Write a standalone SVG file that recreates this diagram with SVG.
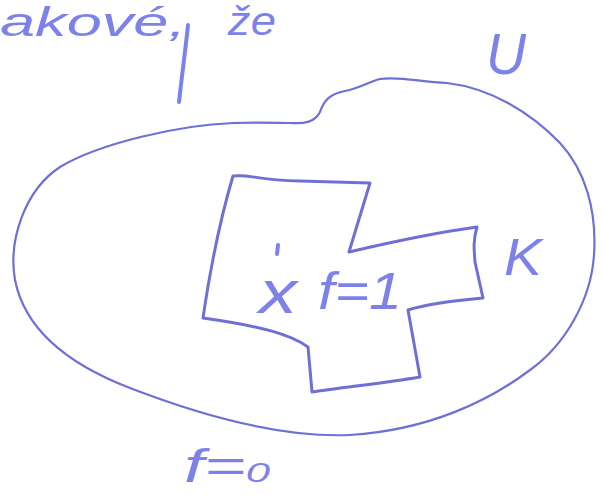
<svg xmlns="http://www.w3.org/2000/svg" width="605" height="495" viewBox="0 0 605 495">
<style>
.outline{fill:none;stroke:#6f70d6;stroke-linecap:round;stroke-linejoin:round}
.hw{fill:#7d82ea;font-family:"Liberation Sans","DejaVu Sans",sans-serif;font-style:italic}
.mark{fill:none;stroke:#7d82ea;stroke-width:4;stroke-linecap:round}
</style>
<rect width="605" height="495" fill="#ffffff"/>
<g id="set-U">
<path class="outline" stroke-width="2.2" d="M290,123 C305,124 315,122 320,112 C324,100 330,94 345,91 C360,88 368,82 380,79 C400,76 420,82 447,83 C490,88 530,112 560,143 C585,170 597,210 594,255 C591,300 565,345 530,370 C490,400 430,430 350,435 C280,438 200,415 130,388 C70,365 25,330 15,280 C8,240 25,190 60,167 C100,143 180,125 233,123 C260,122 280,123 290,123 Z"/>
<text class="hw" x="486" y="74" font-size="58" textLength="40" lengthAdjust="spacingAndGlyphs">U</text>
</g>
<g id="set-K">
<path class="outline" stroke-width="3" d="M233,176 C250,174 255,180 300,181 L370,183 L349,252 C400,240 440,232 477,227 C473,240 474,250 475,262 L483,298 C460,300 430,303 408,310 L420,377 C385,383 345,387 312,392 L308,347 C290,334 260,326 203,318 C210,270 220,220 233,176 Z"/>
<text class="hw" x="504" y="275" font-size="52" textLength="38" lengthAdjust="spacingAndGlyphs">K</text>
</g>
<g id="point-x">
<path class="mark" stroke-width="3" d="M278,245 L277,254"/>
<text class="hw" x="259" y="313" font-size="62" textLength="38" lengthAdjust="spacingAndGlyphs">x</text>
</g>
<g id="label-f1">
<text class="hw" x="318" y="309" font-size="52" textLength="84" lengthAdjust="spacingAndGlyphs">f=1</text>
</g>
<g id="label-f0">
<text class="hw" x="184" y="482" font-size="46" textLength="86" lengthAdjust="spacingAndGlyphs">f=<tspan font-size="28">0</tspan></text>
</g>
<g id="caption">
<text class="hw" x="0" y="36" font-size="40" textLength="186" lengthAdjust="spacingAndGlyphs">akové,</text>
<path class="mark" d="M188,25 C186,45 182,75 179,102"/>
<text class="hw" x="228" y="35" font-size="40" textLength="48" lengthAdjust="spacingAndGlyphs">že</text>
</g>
<g id="connectors"></g>
</svg>
